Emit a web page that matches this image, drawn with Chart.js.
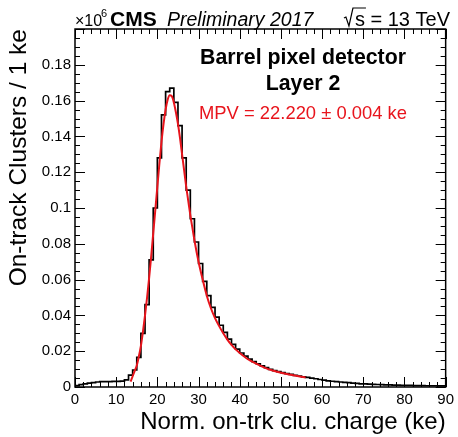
<!DOCTYPE html>
<html>
<head>
<meta charset="UTF-8" />
<title>Barrel pixel detector Layer 2</title>
<script src="https://cdn.jsdelivr.net/npm/chart.js"></script>
<style>
  body { margin: 0; background: #fff; }
  canvas { display: block; }
</style>
</head>
<body>
<canvas id="grafico" width="458" height="437"></canvas>
<script>
  // histogram: 1 ke bins from 0 to 90, value = clusters (x10^6) in bin [i, i+1)
  const histCounts = [
    0.0008, 0.0013, 0.0018, 0.0022, 0.0025, 0.0028, 0.0030, 0.0030, 0.0030, 0.0031,
    0.0031, 0.0033, 0.0040, 0.0066, 0.0095, 0.0165, 0.0300, 0.0460, 0.0710, 0.1000,
    0.1280, 0.1520, 0.1650, 0.1670, 0.1590, 0.1460, 0.1280, 0.1100, 0.0940, 0.0810,
    0.0690, 0.0590, 0.0510, 0.0445, 0.0390, 0.0345, 0.0305, 0.0268, 0.0238, 0.0212,
    0.0190, 0.0172, 0.0156, 0.0142, 0.0130, 0.0118, 0.0108, 0.0099, 0.0092, 0.0086,
    0.0080, 0.0075, 0.0070, 0.0065, 0.0061, 0.0057, 0.0054, 0.0050, 0.0046, 0.0042,
    0.0038, 0.0034, 0.0032, 0.0030, 0.0028, 0.0026, 0.0024, 0.0022, 0.0020, 0.0018,
    0.0017, 0.0016, 0.0015, 0.0014, 0.0013, 0.0012, 0.0012, 0.0011, 0.0010, 0.0009,
    0.0009, 0.0009, 0.0008, 0.0008, 0.0008, 0.0007, 0.0007, 0.0007, 0.0006, 0.0006
  ];
  const binWidth = 1;

  // Landau x Gaussian fit
  const fitX = [13.5, 14, 14.5, 15, 15.5, 16, 16.5, 17, 17.5, 18, 18.5, 19, 19.5, 20, 20.5,
                21, 21.5, 22, 22.5, 23, 23.5, 24, 24.5, 25, 25.5, 26, 26.5, 27, 27.5, 28,
                28.5, 29, 30, 31, 32, 33, 34, 35, 36, 37, 38, 39, 40, 42, 44, 46, 48, 50,
                52, 54, 56];
  const fitY = [0.003, 0.006, 0.009, 0.012, 0.017, 0.023, 0.031, 0.040, 0.050, 0.061, 0.073,
                0.086, 0.099, 0.112, 0.125, 0.137, 0.147, 0.155, 0.1605, 0.163, 0.1625, 0.159,
                0.1535, 0.147, 0.139, 0.130, 0.121, 0.112, 0.104, 0.096, 0.089, 0.082, 0.070,
                0.060, 0.051, 0.044, 0.0385, 0.034, 0.030, 0.0265, 0.0235, 0.021, 0.019,
                0.0155, 0.013, 0.0108, 0.0092, 0.0080, 0.0070, 0.0061, 0.0053];

  const xMin = 0, xMax = 90, xMajor = 10, xMinor = 2;
  const yMin = 0, yMax = 0.2, yMajor = 0.02, yMinor = 0.005;

  const FONT = '"Liberation Sans", Arial, Helvetica, sans-serif';

  const histPoints = histCounts.map((v, i) => ({ x: xMin + i * binWidth, y: v }));
  histPoints.push({ x: xMin + histCounts.length * binWidth, y: histCounts[histCounts.length - 1] });
  const fitPoints = fitX.map((x, i) => ({ x, y: fitY[i] }));

  const rootFrame = {
    id: 'rootFrame',
    afterDraw(chart) {
      const { ctx, chartArea: a, scales: { x, y } } = chart;
      ctx.save();
      ctx.strokeStyle = '#000';
      ctx.lineWidth = 1;
      ctx.beginPath();
      for (let k = 0; k <= (xMax - xMin) / xMinor; k++) {
        const v = xMin + k * xMinor;
        const px = Math.round(x.getPixelForValue(v)) + 0.5;
        const len = (v % xMajor === 0) ? 10 : 5;
        ctx.moveTo(px, a.bottom); ctx.lineTo(px, a.bottom - len);
        ctx.moveTo(px, a.top); ctx.lineTo(px, a.top + len);
      }
      const nY = Math.round((yMax - yMin) / yMinor);
      for (let k = 0; k <= nY; k++) {
        const v = yMin + k * yMinor;
        const py = Math.round(y.getPixelForValue(v)) + 0.5;
        const len = (k % 4 === 0) ? 10 : 5;
        ctx.moveTo(a.left, py); ctx.lineTo(a.left + len, py);
        ctx.moveTo(a.right, py); ctx.lineTo(a.right - len, py);
      }
      ctx.stroke();
      ctx.lineWidth = 1.5;
      ctx.strokeRect(a.left, a.top, a.right - a.left, a.bottom - a.top);

      // header
      ctx.fillStyle = '#000';
      ctx.textBaseline = 'alphabetic';
      ctx.textAlign = 'left';
      ctx.font = '16px ' + FONT;
      ctx.fillText('\u00d710', 75, 26);
      ctx.font = '11px ' + FONT;
      ctx.fillText('6', 101, 17);
      ctx.font = 'bold 21px ' + FONT;
      ctx.fillText('CMS', 110, 26);
      ctx.font = 'italic 19.5px ' + FONT;
      ctx.fillText('Preliminary 2017', 167, 26);
      ctx.font = '20px ' + FONT;
      ctx.textAlign = 'right';
      ctx.fillText('s = 13 TeV', 450, 26);
      const sW = ctx.measureText('s = 13 TeV').width;
      const sOnly = ctx.measureText('s').width;
      const sx = 450 - sW;
      ctx.lineWidth = 1.2;
      ctx.beginPath();
      ctx.moveTo(sx - 11, 18); ctx.lineTo(sx - 9, 17); ctx.lineTo(sx - 6, 26); ctx.lineTo(sx - 2, 8);
      ctx.lineTo(sx + sOnly + 1, 8);
      ctx.stroke();

      // labels inside frame
      ctx.textAlign = 'center';
      ctx.font = 'bold 21.3px ' + FONT;
      ctx.fillText('Barrel pixel detector', 303, 64);
      ctx.fillText('Layer 2', 303, 90);
      ctx.fillStyle = '#e8141c';
      ctx.font = '18.4px ' + FONT;
      ctx.fillText('MPV = 22.220 \u00b1 0.004 ke', 303, 119);
      ctx.restore();
    }
  };

  new Chart(document.getElementById('grafico').getContext('2d'), {
    type: 'line',
    data: {
      datasets: [
        {
          label: 'fit',
          data: fitPoints,
          borderColor: '#e8141c',
          borderWidth: 2,
          pointRadius: 0,
          cubicInterpolationMode: 'monotone',
          fill: false,
          order: 0
        },
        {
          label: 'data',
          data: histPoints,
          borderColor: '#000',
          borderWidth: 1.7,
          pointRadius: 0,
          stepped: 'before',
          fill: false,
          order: 1
        }
      ]
    },
    options: {
      responsive: false,
      animation: false,
      devicePixelRatio: 1,
      layout: { padding: { top: 29, right: 10, left: 0, bottom: 0 } },
      plugins: { legend: { display: false }, tooltip: { enabled: false } },
      scales: {
        x: {
          type: 'linear',
          min: xMin,
          max: xMax,
          grid: { display: false, drawTicks: false },
          border: { display: false },
          ticks: { stepSize: xMajor, padding: 4, color: '#000', font: { family: FONT, size: 15 } },
          title: { display: true, text: 'Norm. on-trk clu. charge (ke)', align: 'end', color: '#000',
                   font: { family: FONT, size: 24 }, padding: { top: 0, bottom: 0 } },
          afterFit(s) { s.height = 50; }
        },
        y: {
          type: 'linear',
          min: yMin,
          max: yMax,
          grid: { display: false, drawTicks: false },
          border: { display: false },
          ticks: {
            stepSize: yMajor, padding: 4, color: '#000', font: { family: FONT, size: 15 },
            callback: v => (v >= yMax - 1e-9 ? '' : String(Math.round(v * 100) / 100))
          },
          title: { display: true, text: 'On-track Clusters / 1 ke', align: 'end', color: '#000',
                   font: { family: FONT, size: 24.5 }, padding: { top: 5, bottom: 0 } },
          afterFit(s) { s.width = 75; }
        }
      }
    },
    plugins: [rootFrame]
  });
</script>
</body>
</html>
